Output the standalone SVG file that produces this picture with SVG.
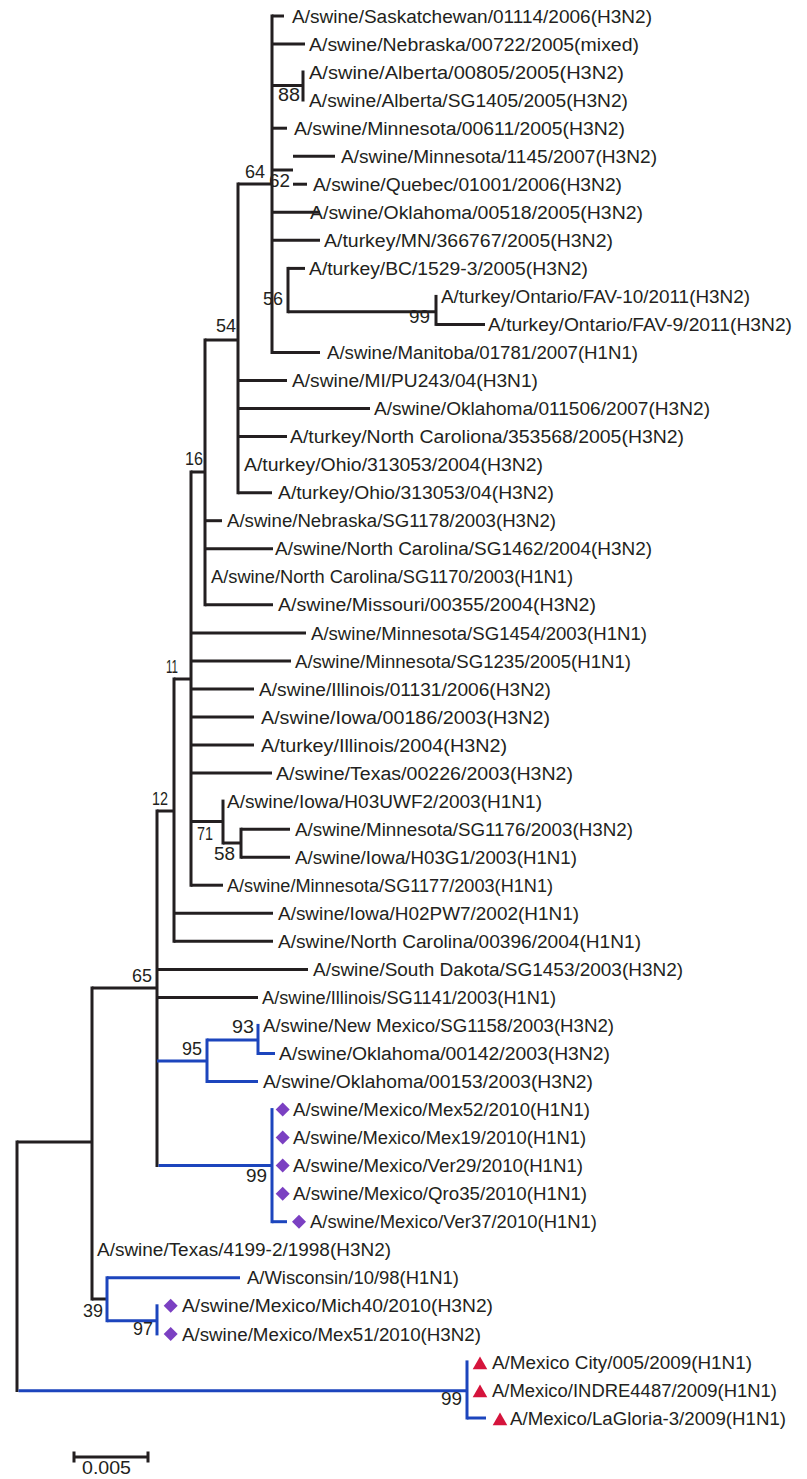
<svg xmlns="http://www.w3.org/2000/svg" width="807" height="1479" viewBox="0 0 807 1479">
<defs>
<style>
.k{stroke:#231f20;stroke-width:3;fill:none}
.u{stroke:#1c45bd;stroke-width:3;fill:none}
text{font-family:"Liberation Sans",Arial,sans-serif;font-size:18px;fill:#231f20}
.bs{font-size:18px}
.dm{fill:#7b40c2}
.tr{fill:#d5143c}
</style>
<path id="dia" d="M0,-7 L7,0 L0,7 L-7,0 Z"/>
<path id="tri" d="M0,-6 L7.3,6.8 L-7.3,6.8 Z"/>
</defs>
<rect width="807" height="1479" fill="#ffffff"/>
<g id="connectors">
<g class="k">
<path d="M272,14.5 V354"/>
<path d="M272,16 H284"/>
<path d="M272,44 H305"/>
<path d="M272,85.5 H303 M303,70.6 V101.6"/>
<path d="M272,128.2 H287"/>
<path d="M293,156.2 H335"/>
<path d="M272,170 H293"/>
<path d="M293,184.2 H307"/>
<path d="M272,212.3 H320"/>
<path d="M272,240.3 H320"/>
<path d="M288,266.9 V313.2"/>
<path d="M288,268.4 H305"/>
<path d="M288,311.7 H436"/>
<path d="M436,294.9 V325.9"/>
<path d="M436,324.4 H485"/>
<path d="M272,352.5 H320"/>
<path d="M238,184 H272"/>
<path d="M238,182.5 V494.2"/>
<path d="M238,380.5 H287"/>
<path d="M238,408.6 H370"/>
<path d="M238,436.6 H287"/>
<path d="M238,492.7 H272"/>
<path d="M205,340 H238"/>
<path d="M205,338.5 V606.3"/>
<path d="M205,520.7 H222"/>
<path d="M205,548.8 H273"/>
<path d="M205,604.8 H273"/>
<path d="M191,472 H205"/>
<path d="M191,470.5 V886.7"/>
<path d="M191,632.9 H306"/>
<path d="M191,660.9 H291"/>
<path d="M191,689 H254"/>
<path d="M191,717 H254"/>
<path d="M191,745 H254"/>
<path d="M191,773.1 H272"/>
<path d="M191,821.5 H223"/>
<path d="M223,799.6 V844.5"/>
<path d="M223,843 H241"/>
<path d="M241,827.7 V858.7"/>
<path d="M241,829.2 H290"/>
<path d="M241,857.2 H290"/>
<path d="M191,885.2 H223"/>
<path d="M174,679 H191"/>
<path d="M174,677.5 V942.8"/>
<path d="M174,913.3 H273"/>
<path d="M174,941.3 H273"/>
<path d="M157,811 H174"/>
<path d="M157,809.5 V1167.1"/>
<path d="M157,969.4 H308"/>
<path d="M157,997.4 H258"/>
<path d="M92,988 H157"/>
<path d="M92,986.5 V1300.5"/>
<path d="M92,1299 H107"/>
<path d="M17,1140.5 V1392"/>
<path d="M17,1142 H92"/>
<path d="M74,1457 H148 M74,1451.5 V1462.5 M148,1451.5 V1462.5"/>
</g>
<g class="u">
<path d="M157,1061 H207"/>
<path d="M207,1038.5 V1083"/>
<path d="M207,1040 H258"/>
<path d="M258,1023.9 V1055"/>
<path d="M258,1053.5 H275"/>
<path d="M207,1081.5 H258"/>
<path d="M158.5,1165.6 H272"/>
<path d="M272,1108.1 V1223.2"/>
<path d="M272,1221.7 H287"/>
<path d="M107,1276.3 V1322.2"/>
<path d="M107,1277.8 H240"/>
<path d="M107,1320.7 H157"/>
<path d="M157,1304.3 V1335.4"/>
<path d="M18.5,1390.7 H467"/>
<path d="M467,1360.4 V1419.5"/>
<path d="M467,1418 H486"/>
</g>
</g>
<g id="leaves">
<g id="n1"><text x="292" y="22.6" textLength="360" lengthAdjust="spacingAndGlyphs">A/swine/Saskatchewan/01114/2006(H3N2)</text></g>
<g id="n2"><text x="309" y="50.6" textLength="330" lengthAdjust="spacingAndGlyphs">A/swine/Nebraska/00722/2005(mixed)</text></g>
<g id="n3"><text x="309" y="78.7" textLength="315" lengthAdjust="spacingAndGlyphs">A/swine/Alberta/00805/2005(H3N2)</text></g>
<g id="n4"><text x="309" y="106.7" textLength="319" lengthAdjust="spacingAndGlyphs">A/swine/Alberta/SG1405/2005(H3N2)</text></g>
<g id="n5"><text x="294" y="134.8" textLength="331" lengthAdjust="spacingAndGlyphs">A/swine/Minnesota/00611/2005(H3N2)</text></g>
<g id="n6"><text x="341" y="162.8" textLength="316" lengthAdjust="spacingAndGlyphs">A/swine/Minnesota/1145/2007(H3N2)</text></g>
<g id="n7"><text x="313" y="190.8" textLength="309" lengthAdjust="spacingAndGlyphs">A/swine/Quebec/01001/2006(H3N2)</text></g>
<g id="n8"><text x="310" y="218.9" textLength="333" lengthAdjust="spacingAndGlyphs">A/swine/Oklahoma/00518/2005(H3N2)</text></g>
<g id="n9"><text x="324" y="246.9" textLength="289" lengthAdjust="spacingAndGlyphs">A/turkey/MN/366767/2005(H3N2)</text></g>
<g id="n10"><text x="309" y="275" textLength="279" lengthAdjust="spacingAndGlyphs">A/turkey/BC/1529-3/2005(H3N2)</text></g>
<g id="n11"><text x="441" y="303" textLength="309" lengthAdjust="spacingAndGlyphs">A/turkey/Ontario/FAV-10/2011(H3N2)</text></g>
<g id="n12"><text x="488" y="331" textLength="304" lengthAdjust="spacingAndGlyphs">A/turkey/Ontario/FAV-9/2011(H3N2)</text></g>
<g id="n13"><text x="327" y="359.1" textLength="311" lengthAdjust="spacingAndGlyphs">A/swine/Manitoba/01781/2007(H1N1)</text></g>
<g id="n14"><text x="292" y="387.1" textLength="246" lengthAdjust="spacingAndGlyphs">A/swine/MI/PU243/04(H3N1)</text></g>
<g id="n15"><text x="374" y="415.2" textLength="336" lengthAdjust="spacingAndGlyphs">A/swine/Oklahoma/011506/2007(H3N2)</text></g>
<g id="n16"><text x="290" y="443.2" textLength="394" lengthAdjust="spacingAndGlyphs">A/turkey/North Caroliona/353568/2005(H3N2)</text></g>
<g id="n17"><text x="244" y="471.2" textLength="299" lengthAdjust="spacingAndGlyphs">A/turkey/Ohio/313053/2004(H3N2)</text></g>
<g id="n18"><text x="278" y="499.3" textLength="276" lengthAdjust="spacingAndGlyphs">A/turkey/Ohio/313053/04(H3N2)</text></g>
<g id="n19"><text x="227" y="527.3" textLength="329" lengthAdjust="spacingAndGlyphs">A/swine/Nebraska/SG1178/2003(H3N2)</text></g>
<g id="n20"><text x="275" y="555.4" textLength="377" lengthAdjust="spacingAndGlyphs">A/swine/North Carolina/SG1462/2004(H3N2)</text></g>
<g id="n21"><text x="211" y="583.4" textLength="362" lengthAdjust="spacingAndGlyphs">A/swine/North Carolina/SG1170/2003(H1N1)</text></g>
<g id="n22"><text x="278" y="611.4" textLength="318" lengthAdjust="spacingAndGlyphs">A/swine/Missouri/00355/2004(H3N2)</text></g>
<g id="n23"><text x="311" y="639.5" textLength="336" lengthAdjust="spacingAndGlyphs">A/swine/Minnesota/SG1454/2003(H1N1)</text></g>
<g id="n24"><text x="295" y="667.5" textLength="336" lengthAdjust="spacingAndGlyphs">A/swine/Minnesota/SG1235/2005(H1N1)</text></g>
<g id="n25"><text x="259" y="695.6" textLength="292" lengthAdjust="spacingAndGlyphs">A/swine/Illinois/01131/2006(H3N2)</text></g>
<g id="n26"><text x="261" y="723.6" textLength="289" lengthAdjust="spacingAndGlyphs">A/swine/Iowa/00186/2003(H3N2)</text></g>
<g id="n27"><text x="261" y="751.6" textLength="246" lengthAdjust="spacingAndGlyphs">A/turkey/Illinois/2004(H3N2)</text></g>
<g id="n28"><text x="276" y="779.7" textLength="297" lengthAdjust="spacingAndGlyphs">A/swine/Texas/00226/2003(H3N2)</text></g>
<g id="n29"><text x="227" y="807.7" textLength="315" lengthAdjust="spacingAndGlyphs">A/swine/Iowa/H03UWF2/2003(H1N1)</text></g>
<g id="n30"><text x="295" y="835.8" textLength="338" lengthAdjust="spacingAndGlyphs">A/swine/Minnesota/SG1176/2003(H3N2)</text></g>
<g id="n31"><text x="295" y="863.8" textLength="282" lengthAdjust="spacingAndGlyphs">A/swine/Iowa/H03G1/2003(H1N1)</text></g>
<g id="n32"><text x="227" y="891.8" textLength="326" lengthAdjust="spacingAndGlyphs">A/swine/Minnesota/SG1177/2003(H1N1)</text></g>
<g id="n33"><text x="278" y="919.9" textLength="301" lengthAdjust="spacingAndGlyphs">A/swine/Iowa/H02PW7/2002(H1N1)</text></g>
<g id="n34"><text x="278" y="947.9" textLength="363" lengthAdjust="spacingAndGlyphs">A/swine/North Carolina/00396/2004(H1N1)</text></g>
<g id="n35"><text x="313" y="976" textLength="370" lengthAdjust="spacingAndGlyphs">A/swine/South Dakota/SG1453/2003(H3N2)</text></g>
<g id="n36"><text x="262" y="1004" textLength="294" lengthAdjust="spacingAndGlyphs">A/swine/Illinois/SG1141/2003(H1N1)</text></g>
<g id="n37"><text x="263" y="1032" textLength="351" lengthAdjust="spacingAndGlyphs">A/swine/New Mexico/SG1158/2003(H3N2)</text></g>
<g id="n38"><text x="279" y="1060.1" textLength="331" lengthAdjust="spacingAndGlyphs">A/swine/Oklahoma/00142/2003(H3N2)</text></g>
<g id="n39"><text x="263" y="1088.1" textLength="330" lengthAdjust="spacingAndGlyphs">A/swine/Oklahoma/00153/2003(H3N2)</text></g>
<g id="n40"><use href="#dia" class="dm" x="282.7" y="1109.6"/><text x="293" y="1116.2" textLength="297" lengthAdjust="spacingAndGlyphs">A/swine/Mexico/Mex52/2010(H1N1)</text></g>
<g id="n41"><use href="#dia" class="dm" x="282.7" y="1137.6"/><text x="293" y="1144.2" textLength="293" lengthAdjust="spacingAndGlyphs">A/swine/Mexico/Mex19/2010(H1N1)</text></g>
<g id="n42"><use href="#dia" class="dm" x="282.7" y="1165.6"/><text x="293" y="1172.2" textLength="290" lengthAdjust="spacingAndGlyphs">A/swine/Mexico/Ver29/2010(H1N1)</text></g>
<g id="n43"><use href="#dia" class="dm" x="282.7" y="1193.7"/><text x="293" y="1200.3" textLength="294" lengthAdjust="spacingAndGlyphs">A/swine/Mexico/Qro35/2010(H1N1)</text></g>
<g id="n44"><use href="#dia" class="dm" x="299" y="1221.7"/><text x="310" y="1228.3" textLength="287" lengthAdjust="spacingAndGlyphs">A/swine/Mexico/Ver37/2010(H1N1)</text></g>
<g id="n45"><text x="97" y="1256.4" textLength="294" lengthAdjust="spacingAndGlyphs">A/swine/Texas/4199-2/1998(H3N2)</text></g>
<g id="n46"><text x="247" y="1284.4" textLength="212" lengthAdjust="spacingAndGlyphs">A/Wisconsin/10/98(H1N1)</text></g>
<g id="n47"><use href="#dia" class="dm" x="170.7" y="1305.8"/><text x="182" y="1312.4" textLength="311" lengthAdjust="spacingAndGlyphs">A/swine/Mexico/Mich40/2010(H3N2)</text></g>
<g id="n48"><use href="#dia" class="dm" x="170.7" y="1333.9"/><text x="182" y="1340.5" textLength="299" lengthAdjust="spacingAndGlyphs">A/swine/Mexico/Mex51/2010(H3N2)</text></g>
<g id="n49"><use href="#tri" class="tr" x="480" y="1362.5"/><text x="492" y="1368.5" textLength="260" lengthAdjust="spacingAndGlyphs">A/Mexico City/005/2009(H1N1)</text></g>
<g id="n50"><use href="#tri" class="tr" x="480" y="1390.5"/><text x="492" y="1396.6" textLength="285" lengthAdjust="spacingAndGlyphs">A/Mexico/INDRE4487/2009(H1N1)</text></g>
<g id="n51"><use href="#tri" class="tr" x="500" y="1418.5"/><text x="510" y="1424.6" textLength="276" lengthAdjust="spacingAndGlyphs">A/Mexico/LaGloria-3/2009(H1N1)</text></g>
</g>
<g id="bootstrap" class="bs">
<text x="278" y="101" textLength="22" lengthAdjust="spacingAndGlyphs">88</text>
<text x="245" y="178" textLength="20" lengthAdjust="spacingAndGlyphs">64</text>
<text x="269" y="187" textLength="21" lengthAdjust="spacingAndGlyphs">62</text>
<text x="263" y="305" textLength="20" lengthAdjust="spacingAndGlyphs">56</text>
<text x="409" y="323" textLength="21" lengthAdjust="spacingAndGlyphs">99</text>
<text x="216" y="332" textLength="20" lengthAdjust="spacingAndGlyphs">54</text>
<text x="185" y="465" textLength="18" lengthAdjust="spacingAndGlyphs">16</text>
<text x="166" y="673" textLength="12" lengthAdjust="spacingAndGlyphs">11</text>
<text x="152" y="805" textLength="16" lengthAdjust="spacingAndGlyphs">12</text>
<text x="197" y="840" textLength="16" lengthAdjust="spacingAndGlyphs">71</text>
<text x="214" y="860" textLength="21" lengthAdjust="spacingAndGlyphs">58</text>
<text x="132" y="982" textLength="20" lengthAdjust="spacingAndGlyphs">65</text>
<text x="232" y="1033" textLength="22" lengthAdjust="spacingAndGlyphs">93</text>
<text x="182" y="1055" textLength="20" lengthAdjust="spacingAndGlyphs">95</text>
<text x="246" y="1182" textLength="21" lengthAdjust="spacingAndGlyphs">99</text>
<text x="83" y="1317" textLength="20" lengthAdjust="spacingAndGlyphs">39</text>
<text x="133" y="1335" textLength="20" lengthAdjust="spacingAndGlyphs">97</text>
<text x="441" y="1405" textLength="21" lengthAdjust="spacingAndGlyphs">99</text>
</g>
<g id="scale"><text x="82" y="1474" textLength="49" lengthAdjust="spacingAndGlyphs">0.005</text></g>
</svg>
